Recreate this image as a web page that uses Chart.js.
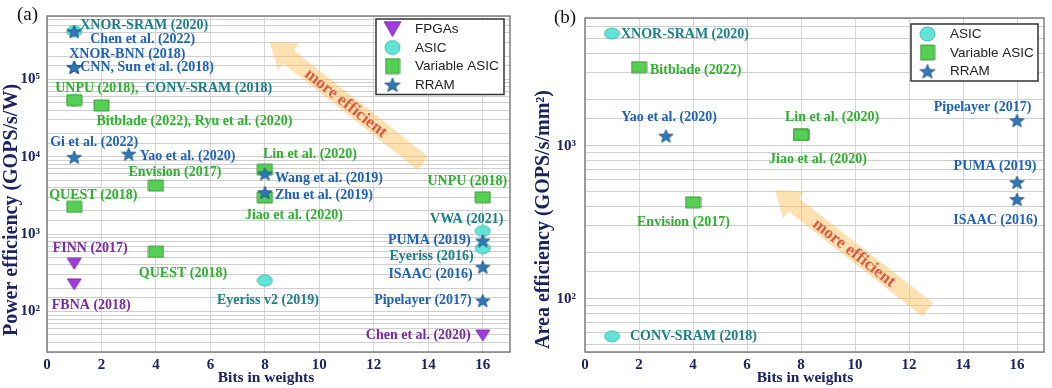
<!DOCTYPE html>
<html>
<head>
<meta charset="utf-8">
<script src="https://cdn.jsdelivr.net/npm/chart.js@4.4.1/dist/chart.umd.min.js"></script>
<style>
  html, body { margin: 0; padding: 0; background: #fff; }
  #wrap { position: relative; width: 1052px; height: 388px; }
  .panel { position: absolute; top: 0; height: 388px; }
</style>
</head>
<body>
<div id="wrap">
  <div class="panel" style="left:0;width:525px"><canvas id="powerChart"></canvas></div>
  <div class="panel" style="left:525px;width:527px"><canvas id="areaChart"></canvas></div>
</div>
<script>
// ---- (a) power efficiency, GOPS/s/W ----
const powFpgaBits = [1, 1, 16];
const powFpgaEff = [415, 225, 49];
const powFpgaNames = ['FINN (2017)', 'FBNA (2018)', 'Chen et al. (2020)'];

const powAsicBits = [1, 1, 8, 16, 16];
const powAsicEff = [420000, 54000, 252, 1100, 660];
const powAsicNames = ['XNOR-SRAM (2020)', 'CONV-SRAM (2018)', 'Eyeriss v2 (2019)', 'VWA (2021)', 'Eyeriss (2016)'];

const powVarBits = [1, 2, 4, 1, 8, 8, 16, 4];
const powVarEff = [54000, 46000, 4240, 2250, 6800, 2980, 3000, 590];
const powVarNames = ['UNPU (2018),', 'Bitblade (2022), Ryu et al. (2020)', 'Envision (2017)', 'QUEST (2018)',
  'Lin et al. (2020)', 'Jiao et al. (2020)', 'UNPU (2018)', 'QUEST (2018)'];

const powRramBits = [1, 1, 1, 1, 3, 8, 8, 16, 16, 16];
const powRramEff = [420000, 145000, 145000, 10000, 11000, 6100, 3500, 830, 380, 140];
const powRramNames = ['Chen et al. (2022)', 'XNOR-BNN (2018)', 'CNN, Sun et al. (2018)', 'Gi et al. (2022)',
  'Yao et al. (2020)', 'Wang et al. (2019)', 'Zhu et al. (2019)', 'PUMA (2019)', 'ISAAC (2016)', 'Pipelayer (2017)'];

// ---- (b) area efficiency, GOPS/s/mm2 ----
const areaAsicBits = [1, 1];
const areaAsicEff = [5420, 57];
const areaAsicNames = ['XNOR-SRAM (2020)', 'CONV-SRAM (2018)'];

const areaVarBits = [2, 8, 8, 4];
const areaVarEff = [3270, 1180, 1180, 428];
const areaVarNames = ['Bitblade (2022)', 'Lin et al. (2020)', 'Jiao et al. (2020)', 'Envision (2017)'];

const areaRramBits = [3, 16, 16, 16];
const areaRramEff = [1166, 1470, 580, 450];
const areaRramNames = ['Yao et al. (2020)', 'Pipelayer (2017)', 'PUMA (2019)', 'ISAAC (2016)'];

const bitTicks = [0, 2, 4, 6, 8, 10, 12, 14, 16];

// label placement next to each point: [align, dx, dy] in px
const powFpgaNotes = [['center', 16, -15], ['center', 17, 21], ['right', -12, 0]];
const powAsicNotes = [['left', 6, -6], ['left', 71, -12], ['center', 3, 20], ['center', -16, -12], ['right', -9, 8]];
const powVarNotes = [['left', -19, -12], ['left', -5, 16], ['center', 19, -13], ['left', -25, -12],
  ['left', -2, -15], ['left', -20, 18], ['center', -15.5, -16], ['center', 27, 21]];
const powRramNotes = [['left', 16, 8], ['left', -5, -13], ['left', 6, 0], ['left', -24, -14], ['left', 11, 3],
  ['left', 10, 5], ['left', 10, 3], ['right', -12, 0], ['right', -10, 8], ['right', -11, 0]];
const areaAsicNotes = [['left', 9, 1], ['left', 18, 0]];
const areaVarNotes = [['left', 11, 3], ['center', 31, -17], ['center', 17, 25], ['center', -9.5, 20]];
const areaRramNotes = [['center', 3, -18], ['center', -34.5, -12.5], ['center', -22, -16], ['center', -21.5, 21]];

const NAVY = '#1c2262';
const SERIF = "'Liberation Serif', 'Times New Roman', serif";
const SANS = "'Liberation Sans', Arial, sans-serif";
const SUP = ['⁰', '¹', '²', '³', '⁴', '⁵', '⁶', '⁷'];

// little canvases used as point styles (matplotlib-like markers)
function marker(kind, w, h, fill, edge) {
    const c = document.createElement('canvas');
    c.width = w + 2; c.height = h + 2;
    const g = c.getContext('2d');
    const cx = c.width / 2, cy = c.height / 2, rx = w / 2, ry = h / 2;
    g.beginPath();
    if (kind === 'tri') {
        g.moveTo(cx - rx, cy - ry); g.lineTo(cx + rx, cy - ry); g.lineTo(cx, cy + ry); g.closePath();
    } else if (kind === 'ell') {
        g.ellipse(cx, cy, rx, ry, 0, 0, Math.PI * 2);
    } else if (kind === 'sq') {
        g.rect(cx - rx, cy - ry, w, h);
    } else {
        for (let k = 0; k < 10; k++) {
            const r = k % 2 ? 0.42 : 1;
            const a = -Math.PI / 2 + k * Math.PI / 5;
            g.lineTo(cx + rx * r * Math.cos(a), cy + 1 + ry * r * Math.sin(a));
        }
        g.closePath();
    }
    g.fillStyle = fill; g.fill();
    g.lineWidth = 0.8; g.strokeStyle = edge; g.stroke();
    return c;
}

const CAT = {
    fpga: { label: 'FPGAs', text: '#7c2aa4', mark: marker('tri', 14, 11, '#a23bdf', '#6b1f98'), legendMark: marker('tri', 17, 15, '#a23bdf', '#6b1f98') },
    asic: { label: 'ASIC', text: '#1b8087', mark: marker('ell', 15, 11, '#62e3d8', '#35a9a0'), legendMark: marker('ell', 15, 14, '#62e3d8', '#35a9a0') },
    vasic: { label: 'Variable ASIC', text: '#2cb22c', mark: marker('sq', 15, 11, '#55d055', '#2a8a2a'), legendMark: marker('sq', 14, 15, '#55d055', '#2a8a2a') },
    rram: { label: 'RRAM', text: '#1f63b8', mark: marker('star', 15, 14, '#2f78b8', '#1b4d7e'), legendMark: marker('star', 16, 15, '#2f78b8', '#1b4d7e') }
};

function series(cat, bits, eff, names, notes, order) {
    return {
        label: CAT[cat].label,
        data: bits.map((b, i) => ({ x: b, y: eff[i] })),
        pointStyle: CAT[cat].mark,
        pointRadius: 7,
        showLine: false,
        order: order,
        names: names,
        notes: notes,
        noteColor: CAT[cat].text
    };
}

function decade(v) {
    const e = Math.log10(v);
    if (Math.abs(e - Math.round(e)) > 1e-6) return '';
    return '10' + SUP[Math.round(e)];
}

function drawArrow(chart, a) {
    const { ctx, scales: { x, y } } = chart;
    const hx = x.getPixelForValue(a.head[0]), hy = y.getPixelForValue(a.head[1]);
    const tx = x.getPixelForValue(a.tail[0]), ty = y.getPixelForValue(a.tail[1]);
    const ang = Math.atan2(hy - ty, hx - tx);
    const len = Math.hypot(hx - tx, hy - ty);
    const sw = 8.5, hw = 17, hl = 24;
    ctx.save();
    ctx.translate(tx, ty);
    ctx.rotate(ang);
    ctx.beginPath();
    ctx.moveTo(0, -sw); ctx.lineTo(len - hl, -sw); ctx.lineTo(len - hl, -hw); ctx.lineTo(len, 0);
    ctx.lineTo(len - hl, hw); ctx.lineTo(len - hl, sw); ctx.lineTo(0, sw); ctx.closePath();
    ctx.fillStyle = 'rgba(252, 196, 100, 0.5)';
    ctx.fill();
    ctx.translate(len / 2 - a.shift, 0);
    ctx.rotate(Math.PI);
    ctx.fillStyle = '#e0583f';
    ctx.font = 'bold 17px ' + SERIF;
    ctx.textAlign = 'center';
    ctx.textBaseline = 'middle';
    ctx.fillText('more efficient', 0, 1);
    ctx.restore();
}

function drawNotes(chart) {
    const ctx = chart.ctx;
    ctx.save();
    ctx.font = 'bold 14px ' + SERIF;
    ctx.textBaseline = 'middle';
    chart.data.datasets.forEach((ds, i) => {
        chart.getDatasetMeta(i).data.forEach((pt, j) => {
            const [align, dx, dy] = ds.notes[j];
            ctx.fillStyle = ds.noteColor;
            ctx.textAlign = align;
            ctx.fillText(ds.names[j], pt.x + dx, pt.y + dy);
        });
    });
    ctx.restore();
}

function drawLegendBox(chart, lg) {
    const { ctx, chartArea } = chart;
    const right = chartArea.right - lg.inset[0];
    const top = chartArea.top + lg.inset[1];
    const left = right - lg.w;
    const h = 20 + (lg.cats.length - 1) * 18.5;
    ctx.save();
    ctx.fillStyle = '#fff';
    ctx.fillRect(left, top, lg.w, h);
    ctx.strokeStyle = '#333';
    ctx.lineWidth = 1.5;
    ctx.strokeRect(left, top, lg.w, h);
    ctx.font = '13.5px ' + SANS;
    ctx.textAlign = 'left';
    ctx.textBaseline = 'middle';
    lg.cats.forEach((c, k) => {
        const cy = top + 10 + k * 18.5;
        const m = CAT[c].legendMark;
        ctx.drawImage(m, left + 16.5 - m.width / 2, cy - m.height / 2);
        ctx.fillStyle = '#222';
        ctx.fillText(CAT[c].label, left + 39, cy + 0.5);
    });
    ctx.restore();
}

function drawFrameAndTitles(chart, t) {
    const { ctx, chartArea: a } = chart;
    ctx.save();
    ctx.strokeStyle = '#7f7f7f';
    ctx.lineWidth = 1.5;
    ctx.strokeRect(a.left, a.top, a.right - a.left, a.bottom - a.top);
    ctx.fillStyle = NAVY;
    ctx.textAlign = 'center';
    ctx.textBaseline = 'middle';
    ctx.font = 'bold 15.5px ' + SERIF;
    ctx.fillText('Bits in weights', t.xTitle[0], t.xTitle[1]);
    ctx.save();
    ctx.translate(t.yTitle[0], t.yTitle[1]);
    ctx.rotate(-Math.PI / 2);
    ctx.font = 'bold 20px ' + SERIF;
    ctx.fillText(t.yText, 0, 0);
    ctx.restore();
    ctx.fillStyle = '#111';
    ctx.font = '19px ' + SERIF;
    ctx.fillText(t.panel, t.panelAt[0], t.panelAt[1]);
    ctx.restore();
}

function decorations(cfg) {
    return {
        id: 'decor',
        beforeDatasetsDraw(chart) { drawArrow(chart, cfg.arrow); },
        afterDatasetsDraw(chart) { drawNotes(chart); drawLegendBox(chart, cfg.legend); },
        afterDraw(chart) { drawFrameAndTitles(chart, cfg.titles); }
    };
}

function options(yMin, yMax, yWidth, yPad, pad) {
    const tickFont = { family: SERIF, size: 15, weight: 'bold' };
    return {
        responsive: true,
        maintainAspectRatio: false,
        animation: false,
        layout: { padding: pad },
        plugins: { legend: { display: false }, tooltip: { enabled: false } },
        scales: {
            x: {
                type: 'linear', min: 0, max: 17,
                afterBuildTicks: s => { s.ticks = bitTicks.map(v => ({ value: v })); },
                afterFit: s => { s.height = 36; },
                grid: { color: '#d6d6d6', drawTicks: false },
                border: { display: false },
                ticks: { color: NAVY, font: tickFont, padding: 4, maxRotation: 0, autoSkip: false }
            },
            y: {
                type: 'logarithmic', min: yMin, max: yMax,
                afterFit: s => { s.width = yWidth; },
                grid: { color: '#cfcfcf', drawTicks: false },
                border: { display: false },
                ticks: { color: NAVY, font: tickFont, padding: yPad, autoSkip: false, callback: v => decade(v) }
            }
        }
    };
}

new Chart(document.getElementById('powerChart'), {
    type: 'scatter',
    data: {
        datasets: [
            series('fpga', powFpgaBits, powFpgaEff, powFpgaNames, powFpgaNotes, 1),
            series('asic', powAsicBits, powAsicEff, powAsicNames, powAsicNotes, 3),
            series('vasic', powVarBits, powVarEff, powVarNames, powVarNotes, 2),
            series('rram', powRramBits, powRramEff, powRramNames, powRramNotes, 0)
        ]
    },
    options: options(30, 660000, 47, 7, { left: 0, right: 15, top: 3, bottom: 0 }),
    plugins: [decorations({
        arrow: { head: [8.18, 305000], tail: [13.8, 8260], shift: 0 },
        legend: { cats: ['fpga', 'asic', 'vasic', 'rram'], w: 128, inset: [6, 3] },
        titles: { xTitle: [266, 378], yTitle: [11.5, 210], yText: 'Power efficiency (GOPS/s/W)', panel: '(a)', panelAt: [27.5, 15] }
    })]
});

new Chart(document.getElementById('areaChart'), {
    type: 'scatter',
    data: {
        datasets: [
            series('asic', areaAsicBits, areaAsicEff, areaAsicNames, areaAsicNotes, 3),
            series('vasic', areaVarBits, areaVarEff, areaVarNames, areaVarNotes, 2),
            series('rram', areaRramBits, areaRramEff, areaRramNames, areaRramNotes, 0)
        ]
    },
    options: options(45, 6840, 60, 9, { left: 0, right: 3, top: 6, bottom: 0 }),
    plugins: [decorations({
        arrow: { head: [7.03, 514], tail: [12.7, 85], shift: 4 },
        legend: { cats: ['asic', 'vasic', 'rram'], w: 127, inset: [6, 6] },
        titles: { xTitle: [280, 378], yTitle: [19, 219.5], yText: 'Area efficiency (GOPS/s/mm²)', panel: '(b)', panelAt: [40, 18] }
    })]
});
</script>
</body>
</html>
